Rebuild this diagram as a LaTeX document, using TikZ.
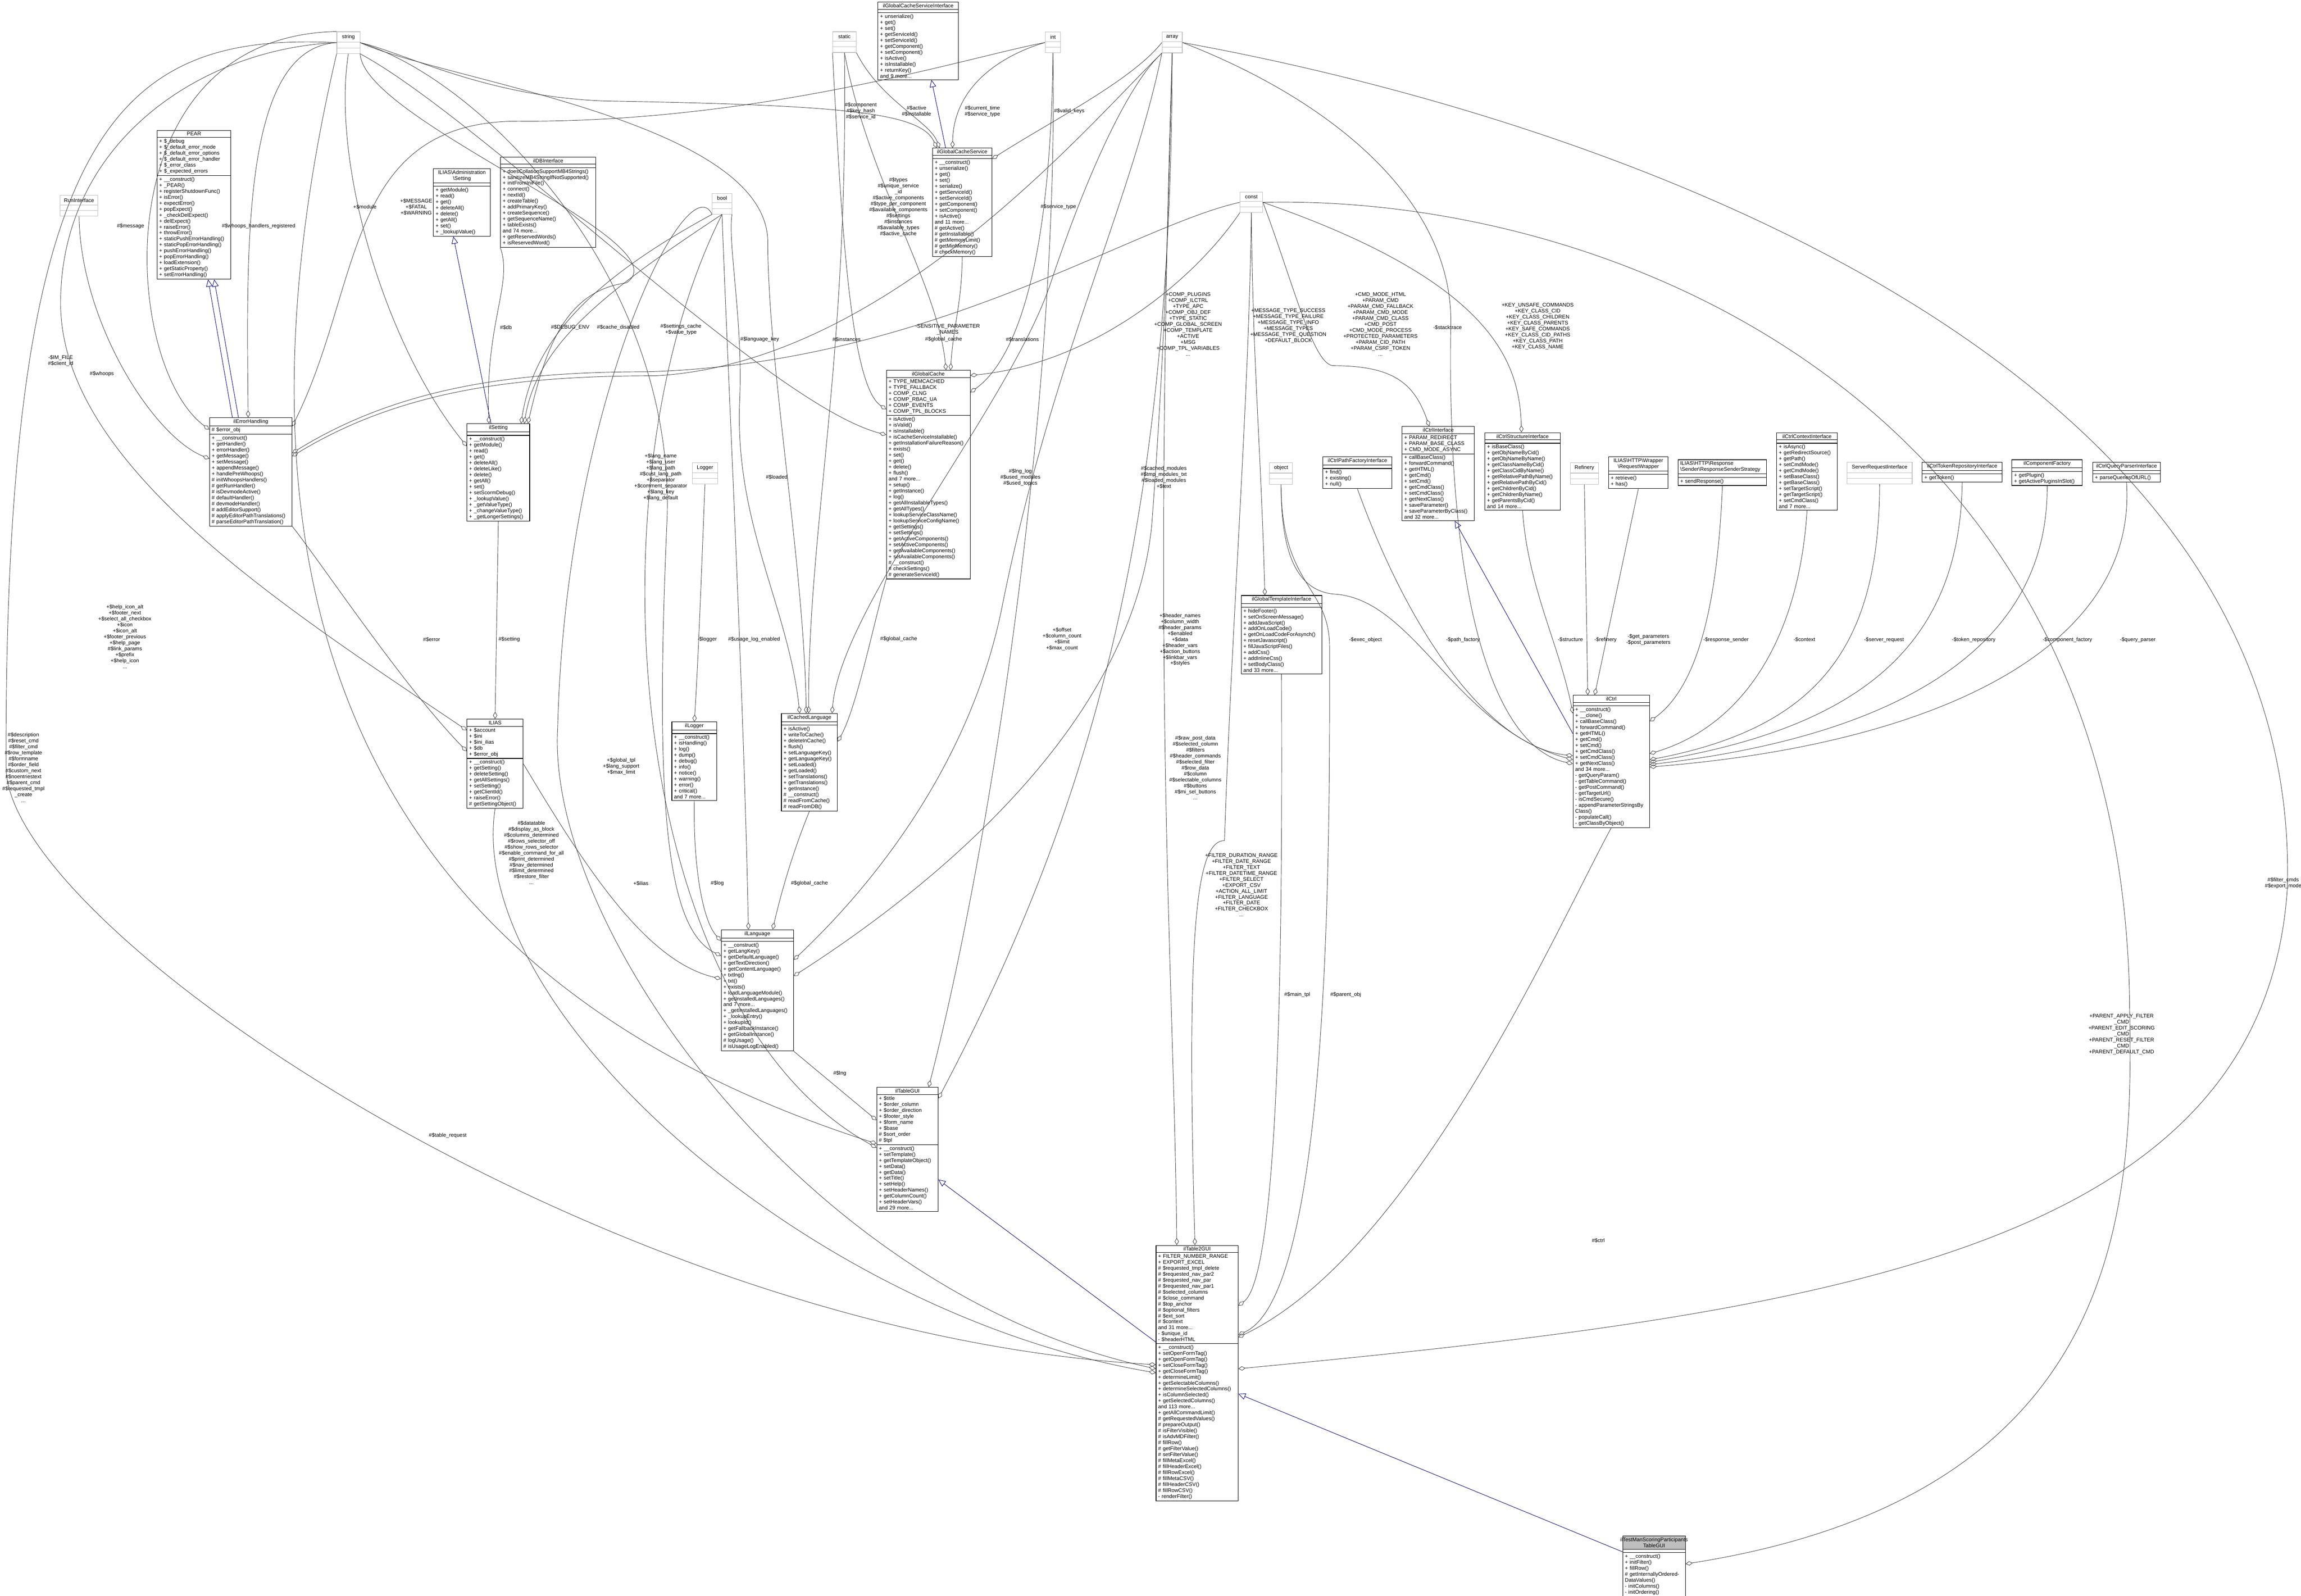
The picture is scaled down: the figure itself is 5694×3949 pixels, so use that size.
\documentclass[tikz,border=0pt]{standalone}
\usepackage{fontspec}
\setmainfont{Liberation Sans}
\usetikzlibrary{shapes.multipart,arrows.meta,calc}
\newcommand{\fs}{\fontsize{3.7}{4.2}\selectfont\lineskiplimit=-5pt\lineskip=0pt}
\newcommand{\ctitle}[1]{\makebox[\hsize]{#1}}
\tikzset{
 cls/.style={rectangle split, rectangle split parts=3, draw=black, line width=0.35pt, anchor=north west,
   inner xsep=1.5pt, inner ysep=1pt, font=\fs, align=left, rectangle split empty part height=3.5pt},
 ext/.style={cls, draw=black!25, inner ysep=1.8pt},
 agg/.style={draw=black!75, line width=0.3pt, arrows={Diamond[open,length=5pt,width=3pt]-}},
 inh/.style={draw=blue!50!black, line width=0.3pt, arrows={-Triangle[open,length=5pt,width=4.5pt]}},
 lab/.style={font=\fs, align=center, inner sep=0pt}
}
\begin{document}
\begin{tikzpicture}[x=0.01cm,y=-0.01cm]
\useasboundingbox[fill=white] (0,0) rectangle (5694,3949);

% ---------- grey (external) boxes
\node[ext, text width=13.2pt] (string) at (833,78) {\ctitle{string}\nodepart{two}\nodepart{three}};
\node[ext, text width=13.5pt] (static) at (2060,78) {\ctitle{static}\nodepart{two}\nodepart{three}};
\node[ext, text width=7.8pt] (int) at (2586,79) {\ctitle{int}\nodepart{two}\nodepart{three}};
\node[ext, text width=11.2pt] (array) at (2875,79) {\ctitle{array}\nodepart{two}\nodepart{three}};
\node[ext, text width=12.9pt] (const) at (3068,475) {\ctitle{const}\nodepart{two}\nodepart{three}};
\node[ext, text width=10.7pt] (bool) at (1762,478) {\ctitle{bool}\nodepart{two}\nodepart{three}};
\node[ext, text width=23.7pt] (runif) at (148,483) {\ctitle{RunInterface}\nodepart{two}\nodepart{three}};
\node[ext, text width=14.6pt] (logger) at (1713,1144) {\ctitle{Logger}\nodepart{two}\nodepart{three}};
\node[ext, text width=13.2pt] (object) at (3141,1144) {\ctitle{object}\nodepart{two}\nodepart{three}};
\node[ext, text width=16.9pt] (refinery) at (3885,1144) {\ctitle{Refinery}\nodepart{two}\nodepart{three}};
\node[ext, text width=42.8pt] (sri) at (4570,1143) {\ctitle{ServerRequestInterface}\nodepart{two}\nodepart{three}};

% ---------- classes
\node[cls, text width=49pt] (pear) at (388,322) {\ctitle{PEAR}\nodepart{two}+ \$\_debug\\+ \$\_default\_error\_mode\\+ \$\_default\_error\_options\\+ \$\_default\_error\_handler\\+ \$\_error\_class\\+ \$\_expected\_errors\nodepart{three}+ \_\_construct()\\+ \_PEAR()\\+ registerShutdownFunc()\\+ isError()\\+ expectError()\\+ popExpect()\\+ \_checkDelExpect()\\+ delExpect()\\+ raiseError()\\+ throwError()\\+ staticPushErrorHandling()\\+ staticPopErrorHandling()\\+ pushErrorHandling()\\+ popErrorHandling()\\+ loadExtension()\\+ getStaticProperty()\\+ setErrorHandling()};

\node[cls, text width=37.1pt] (admset) at (1072,417) {\ctitle{ILIAS\textbackslash Administration}\\\ctitle{\textbackslash Setting}\nodepart{two}\nodepart{three}+ getModule()\\+ read()\\+ get()\\+ deleteAll()\\+ delete()\\+ getAll()\\+ set()\\+ \_lookupValue()};

\node[cls, text width=64.1pt] (db) at (1238,388) {\ctitle{ilDBInterface}\nodepart{two}\nodepart{three}+ doesCollationSupportMB4Strings()\\+ sanitizeMB4StringIfNotSupported()\\+ initFromIniFile()\\+ connect()\\+ nextId()\\+ createTable()\\+ addPrimaryKey()\\+ createSequence()\\+ getSequenceName()\\+ tableExists()\\and 74 more...\\+ getReservedWords()\\+ isReservedWord()};

\node[cls, text width=55pt] (errh) at (518,1033) {\ctitle{ilErrorHandling}\nodepart{two}\# \$error\_obj\nodepart{three}+ \_\_construct()\\+ getHandler()\\+ errorHandler()\\+ getMessage()\\+ setMessage()\\+ appendMessage()\\+ handlePreWhoops()\\\# initWhoopsHandlers()\\\# getRunHandler()\\\# isDevmodeActive()\\\# defaultHandler()\\\# devmodeHandler()\\\# addEditorSupport()\\\# applyEditorPathTranslations()\\\# parseEditorPathTranslation()};

\node[cls, text width=41.1pt] (ilsetting) at (1155,1048) {\ctitle{ilSetting}\nodepart{two}\nodepart{three}+ \_\_construct()\\+ getModule()\\+ read()\\+ get()\\+ deleteAll()\\+ deleteLike()\\+ delete()\\+ getAll()\\+ set()\\+ setScormDebug()\\+ \_lookupValue()\\+ \_getValueType()\\+ \_changeValueType()\\+ \_getLongerSettings()};

\node[cls, text width=36.5pt] (ilias) at (1155,1779) {\ctitle{ILIAS}\nodepart{two}+ \$account\\+ \$ini\\+ \$ini\_ilias\\+ \$db\\+ \$error\_obj\nodepart{three}+ \_\_construct()\\+ getSetting()\\+ deleteSetting()\\+ getAllSettings()\\+ setSetting()\\+ getClientId()\\+ raiseError()\\\# getSettingObject()};

\node[cls, text width=28.6pt] (illogger) at (1662,1786) {\ctitle{ilLogger}\nodepart{two}\nodepart{three}+ \_\_construct()\\+ isHandling()\\+ log()\\+ dump()\\+ debug()\\+ info()\\+ notice()\\+ warning()\\+ error()\\+ critical()\\and 7 more...};

\node[cls, text width=36.5pt] (icl) at (1933,1765) {\ctitle{ilCachedLanguage}\nodepart{two}\nodepart{three}+ isActive()\\+ writeToCache()\\+ deleteInCache()\\+ flush()\\+ setLanguageKey()\\+ getLanguageKey()\\+ setLoaded()\\+ getLoaded()\\+ setTranslations()\\+ getTranslations()\\+ getInstance()\\\# \_\_construct()\\\# readFromCache()\\\# readFromDB()};

\node[cls, text width=47.9pt] (illang) at (1784,2300) {\ctitle{ilLanguage}\nodepart{two}\nodepart{three}+ \_\_construct()\\+ getLangKey()\\+ getDefaultLanguage()\\+ getTextDirection()\\+ getContentLanguage()\\+ txtlng()\\+ txt()\\+ exists()\\+ loadLanguageModule()\\+ getInstalledLanguages()\\and 7 more...\\+ \_getInstalledLanguages()\\+ \_lookupEntry()\\+ lookupId()\\+ getFallbackInstance()\\+ getGlobalInstance()\\\# logUsage()\\\# isUsageLogEnabled()};

\node[cls, text width=40.2pt] (tgui) at (2169,2690) {\ctitle{ilTableGUI}\nodepart{two}+ \$title\\+ \$order\_column\\+ \$order\_direction\\+ \$footer\_style\\+ \$form\_name\\+ \$base\\\# \$sort\_order\\\# \$tpl\nodepart{three}+ \_\_construct()\\+ setTemplate()\\+ getTemplateObject()\\+ setData()\\+ getData()\\+ setTitle()\\+ setHelp()\\+ setHeaderNames()\\+ getColumnCount()\\+ setHeaderVars()\\and 29 more...};

\node[cls, text width=53.6pt] (gcsi) at (2172,5) {\ctitle{ilGlobalCacheServiceInterface}\nodepart{two}\nodepart{three}+ unserialize()\\+ get()\\+ set()\\+ getServiceId()\\+ setServiceId()\\+ getComponent()\\+ setComponent()\\+ isActive()\\+ isInstallable()\\+ returnKey()\\and 9 more...};

\node[cls, text width=38.8pt] (gcs) at (2307,366) {\ctitle{ilGlobalCacheService}\nodepart{two}\nodepart{three}+ \_\_construct()\\+ unserialize()\\+ get()\\+ set()\\+ serialize()\\+ getServiceId()\\+ setServiceId()\\+ getComponent()\\+ setComponent()\\+ isActive()\\and 11 more...\\\# getActive()\\\# getInstallable()\\\# getMemoryLimit()\\\# getMinMemory()\\\# checkMemory()};

\node[cls, text width=55.9pt] (gc) at (2193,916) {\ctitle{ilGlobalCache}\nodepart{two}+ TYPE\_MEMCACHED\\+ TYPE\_FALLBACK\\+ COMP\_CLNG\\+ COMP\_RBAC\_UA\\+ COMP\_EVENTS\\+ COMP\_TPL\_BLOCKS\nodepart{three}+ isActive()\\+ isValid()\\+ isInstallable()\\+ isCacheServiceInstallable()\\+ getInstallationFailureReason()\\+ exists()\\+ set()\\+ get()\\+ delete()\\+ flush()\\and 7 more...\\+ setup()\\+ getInstance()\\+ log()\\+ getAllInstallableTypes()\\+ getAllTypes()\\+ lookupServiceClassName()\\+ lookupServiceConfigName()\\+ getSettings()\\+ setSettings()\\+ getActiveComponents()\\+ setActiveComponents()\\+ getAvailableComponents()\\+ setAvailableComponents()\\\# \_\_construct()\\\# checkSettings()\\\# generateServiceId()};

\node[cls, text width=53.6pt] (gti) at (3071,1473) {\ctitle{ilGlobalTemplateInterface}\nodepart{two}\nodepart{three}+ hideFooter()\\+ setOnScreenMessage()\\+ addJavaScript()\\+ addOnLoadCode()\\+ getOnLoadCodeForAsynch()\\+ resetJavascript()\\+ fillJavaScriptFiles()\\+ addCss()\\+ addInlineCss()\\+ setBodyClass()\\and 33 more...};

\node[cls, text width=45.6pt] (pathf) at (3273,1130) {\ctitle{ilCtrlPathFactoryInterface}\nodepart{two}\nodepart{three}+ find()\\+ existing()\\+ null()};

\node[cls, text width=47.9pt] (ctrlif) at (3469,1055) {\ctitle{ilCtrlInterface}\nodepart{two}+ PARAM\_REDIRECT\\+ PARAM\_BASE\_CLASS\\+ CMD\_MODE\_ASYNC\nodepart{three}+ callBaseClass()\\+ forwardCommand()\\+ getHTML()\\+ getCmd()\\+ setCmd()\\+ getCmdClass()\\+ setCmdClass()\\+ getNextClass()\\+ saveParameter()\\+ saveParameterByClass()\\and 32 more...};

\node[cls, text width=49.9pt] (cstruct) at (3674,1070) {\ctitle{ilCtrlStructureInterface}\nodepart{two}\nodepart{three}+ isBaseClass()\\+ getObjNameByCid()\\+ getObjNameByName()\\+ getClassNameByCid()\\+ getClassCidByName()\\+ getRelativePathByName()\\+ getRelativePathByCid()\\+ getChildrenByCid()\\+ getChildrenByName()\\+ getParentsByCid()\\and 14 more...};

\node[cls, text width=38.8pt] (rw) at (3980,1130) {\ctitle{ILIAS\textbackslash HTTP\textbackslash Wrapper}\\\ctitle{\textbackslash RequestWrapper}\nodepart{two}\nodepart{three}+ retrieve()\\+ has()};

\node[cls, text width=59.3pt] (rss) at (4152,1137) {ILIAS\textbackslash HTTP\textbackslash Response\\\textbackslash Sender\textbackslash ResponseSenderStrategy\nodepart{two}\nodepart{three}+ sendResponse()};

\node[cls, text width=39.7pt] (cci) at (4396,1070) {\ctitle{ilCtrlContextInterface}\nodepart{two}\nodepart{three}+ isAsync()\\+ getRedirectSource()\\+ getPath()\\+ setCmdMode()\\+ getCmdMode()\\+ setBaseClass()\\+ getBaseClass()\\+ setTargetScript()\\+ getTargetScript()\\+ setCmdClass()\\and 7 more...};

\node[cls, text width=53.3pt] (ctri) at (4756,1143) {\ctitle{ilCtrlTokenRepositoryInterface}\nodepart{two}\nodepart{three}+ getToken()};
\node[cls, text width=46.5pt] (cf) at (4978,1137) {\ctitle{ilComponentFactory}\nodepart{two}\nodepart{three}+ getPlugin()\\+ getActivePluginsInSlot()};
\node[cls, text width=44.5pt] (cqpi) at (5178,1143) {\ctitle{ilCtrlQueryParserInterface}\nodepart{two}\nodepart{three}+ parseQueriesOfURL()};

\node[cls, text width=50.8pt] (ilctrl) at (3892,1720) {\ctitle{ilCtrl}\nodepart{two}\nodepart{three}+ \_\_construct()\\+ \_\_clone()\\+ callBaseClass()\\+ forwardCommand()\\+ getHTML()\\+ getCmd()\\+ setCmd()\\+ getCmdClass()\\+ setCmdClass()\\+ getNextClass()\\and 34 more...\\- getQueryParam()\\- getTableCommand()\\- getPostCommand()\\- getTargetUrl()\\- isCmdSecure()\\- appendParameterStringsBy\\Class()\\- populateCall()\\- getClassByObject()};

\node[cls, text width=54.8pt] (t2) at (2860,3081) {\ctitle{ilTable2GUI}\nodepart{two}+ FILTER\_NUMBER\_RANGE\\+ EXPORT\_EXCEL\\\# \$requested\_tmpl\_delete\\\# \$requested\_nav\_par2\\\# \$requested\_nav\_par\\\# \$requested\_nav\_par1\\\# \$selected\_columns\\\# \$close\_command\\\# \$top\_anchor\\\# \$optional\_filters\\\# \$ext\_sort\\\# \$context\\and 31 more...\\- \$unique\_id\\- \$headerHTML\nodepart{three}+ \_\_construct()\\+ setOpenFormTag()\\+ getOpenFormTag()\\+ setCloseFormTag()\\+ getCloseFormTag()\\+ determineLimit()\\+ getSelectableColumns()\\+ determineSelectedColumns()\\+ isColumnSelected()\\+ getSelectedColumns()\\and 113 more...\\+ getAllCommandLimit()\\\# getRequestedValues()\\\# prepareOutput()\\\# isFilterVisible()\\\# isAdvMDFilter()\\\# fillRow()\\\# getFilterValue()\\\# setFilterValue()\\\# fillMetaExcel()\\\# fillHeaderExcel()\\\# fillRowExcel()\\\# fillMetaCSV()\\\# fillHeaderCSV()\\\# fillRowCSV()\\- renderFilter()};

\node[cls, text width=41.1pt, rectangle split part fill={black!25,white,white}] (tm) at (4015,3800) {\ctitle{ilTestManScoringParticipants}\\\ctitle{TableGUI}\nodepart{two}\nodepart{three}+ \_\_construct()\\+ initFilter()\\+ fillRow()\\\# getInternallyOrderedDataValues()\\- initColumns()\\- initOrdering()};

% ---------- inheritance
\draw[inh] ($(errh.north west)+(57,0)$) -- ($(pear.south west)+(127,0)$);
\draw[inh] ($(errh.north west)+(72,0)$) -- ($(pear.south west)+(142,0)$);
\draw[inh] ($(ilsetting.north west)+(60,0)$) -- ($(admset.south west)+(50,0)$);
\draw[inh] ($(gcs.north west)+(33,0)$) -- ($(gcsi.south west)+(133,0)$);
\draw[inh] ($(ilctrl.north west)+(0,95)$) -- ($(ctrlif.south west)+(131,0)$);
\draw[inh] ($(t2.north west)+(0,240)$) -- ($(tgui.north east)+(0,229)$);
\draw[inh] ($(tm.north west)+(0,40)$) -- ($(t2.north east)+(0,368)$);

% ---------- aggregations: ilErrorHandling
\draw[agg] ($(errh.north west)+(96,0)$) .. controls (610,600) and (600,120) .. (string.west);
\draw[agg] ($(errh.north west)+(0,30)$) .. controls (300,900) and (250,90) .. (string.north west);
\draw[agg] ($(errh.north west)+(0,102)$) .. controls (380,1080) and (200,800) .. (runif.south);
\draw[agg] ($(errh.north east)+(0,22)$) .. controls (900,700) and (850,290) .. (1300,300) .. controls (1900,300) and (2400,140) .. (int.west);
\draw[agg] ($(errh.north east)+(0,88)$) .. controls (1000,950) and (1300,920) .. (1600,920) .. controls (2300,900) and (2800,560) .. (const.west);
\draw[agg] ($(errh.north east)+(0,96)$) .. controls (1000,960) and (1300,930) .. (1620,930) .. controls (2200,900) and (2700,300) .. (array.south west);
% ilSetting
\draw[agg] ($(ilsetting.north west)+(0,56)$) .. controls (950,850) and (820,400) .. (string.south);
\draw[agg] ($(ilsetting.north west)+(55,0)$) .. controls (1200,800) and (1270,700) .. (db.south west);
\draw[agg] ($(ilsetting.north east)+(-22,0)$) .. controls (1320,850) and (1450,700) .. (bool.south west);
\draw[agg] ($(ilsetting.north east)+(-14,0)$) .. controls (1330,850) and (1500,720) .. (bool.south);
\draw[agg] ($(ilsetting.north east)+(-5,0)$) .. controls (1350,860) and (1400,720) .. (1550,700) .. controls (1700,600) and (900,300) .. (string.south east);
% ILIAS
\draw[agg] (ilias.north) -- (ilsetting.south);
\draw[agg] ($(ilias.north west)+(0,28)$) .. controls (700,1500) and (150,1150) .. (150,750) .. controls (150,350) and (500,120) .. (string.west);
\draw[agg] ($(ilias.north west)+(0,80)$) .. controls (1000,1700) and (800,1400) .. (errh.south east);
% ilLogger, ilLanguage
\draw[agg] (illogger.north) .. controls (1730,1600) and (1740,1300) .. (logger.south);
\draw[agg] ($(illang.north west)+(0,28)$) .. controls (1740,2280) and (1715,2150) .. (illogger.south);
\draw[agg] ($(illang.north west)+(0,65)$) .. controls (1650,2300) and (1620,2000) .. (1650,1300) .. controls (1680,700) and (1200,200) .. (string.east);
\draw[agg] ($(illang.north west)+(0,122)$) .. controls (1600,2380) and (1450,2150) .. (ilias.east);
\draw[agg] ($(illang.north west)+(68,0)$) .. controls (1840,1700) and (1800,900) .. (bool.south);
\draw[agg] ($(illang.north west)+(128,0)$) .. controls (1935,2200) and (1965,2100) .. (icl.south);
\draw[agg] ($(illang.north east)+(0,75)$) .. controls (2150,2200) and (2400,1900) .. (2480,1500) .. controls (2600,900) and (2800,500) .. (array.south west);
\draw[agg] ($(illang.north east)+(0,115)$) .. controls (2300,2200) and (2800,1800) .. (2850,1300) .. controls (2880,900) and (2890,600) .. (array.south);
% ilCachedLanguage
\draw[agg] ($(icl.north west)+(46,0)$) .. controls (1950,1500) and (1820,1300) .. (1830,1000) .. controls (1840,800) and (1800,600) .. (bool.south east);
\draw[agg] ($(icl.north west)+(62,0)$) .. controls (1990,1400) and (1900,900) .. (1900,600) .. controls (1900,300) and (1100,200) .. (string.east);
\draw[agg] ($(icl.north west)+(68,0)$) .. controls (2000,1300) and (2100,900) .. (static.south);
\draw[agg] ($(icl.north west)+(126,0)$) .. controls (2080,1500) and (2500,1000) .. (2600,700) .. controls (2700,400) and (2800,200) .. (array.south west);
\draw[agg] ($(icl.north east)+(0,70)$) .. controls (2120,1750) and (2160,1550) .. (gc.south west);
% ilGlobalCacheService / ilGlobalCache
\draw[agg] ($(gcs.north west)+(11,0)$) .. controls (2280,280) and (2100,260) .. (1500,250) .. controls (1200,240) and (1000,130) .. (string.east);
\draw[agg] ($(gcs.north west)+(18,0)$) .. controls (2300,300) and (2180,250) .. (static.south east);
\draw[agg] ($(gcs.north west)+(50,0)$) .. controls (2360,200) and (2500,130) .. (int.west);
\draw[agg] ($(gcs.north east)+(0,27)$) .. controls (2600,300) and (2800,200) .. (array.west);
\draw[agg] ($(gc.north west)+(148,0)$) .. controls (2320,700) and (2150,450) .. (static.south);
\draw[agg] ($(gc.north west)+(159,0)$) .. controls (2360,800) and (2380,750) .. (gcs.south);
\draw[agg] ($(gc.north east)+(0,13)$) .. controls (2700,900) and (2950,700) .. (const.south west);
\draw[agg] ($(gc.north east)+(0,55)$) .. controls (2500,900) and (2600,700) .. (int.south);
\draw[agg] ($(gc.north west)+(0,97)$) .. controls (2100,950) and (2080,500) .. (static.south west);
\draw[agg] ($(gc.north west)+(0,160)$) .. controls (1900,1000) and (1200,300) .. (string.south east);
% ilTableGUI
\draw[agg] ($(tgui.north west)+(129,0)$) .. controls (2450,2100) and (2620,1000) .. (int.south);
\draw[agg] ($(tgui.north east)+(0,28)$) .. controls (2700,2000) and (2900,1300) .. (array.south);
\draw[agg] ($(tgui.north west)+(0,82)$) -- (illang.south east);
\draw[agg] ($(tgui.north west)+(0,140)$) .. controls (1300,2550) and (420,1900) .. (string.south west);
\draw[agg] ($(tgui.north west)+(0,150)$) .. controls (1550,2500) and (1450,1200) .. (bool.south);
% ilTable2GUI
\draw[agg] ($(t2.north west)+(52,0)$) .. controls (2905,2400) and (2850,1750) .. (array.south);
\draw[agg] ($(t2.north west)+(97,0)$) .. controls (2935,2300) and (2960,2080) .. (3030,2080) .. controls (3050,1500) and (3090,1000) .. (const.south);
\draw[agg] ($(t2.north east)+(0,150)$) .. controls (3173,3150) and (3173,2200) .. (gti.south);
\draw[agg] ($(t2.north east)+(0,222)$) .. controls (3300,3200) and (3290,2000) .. (3290,1600) .. controls (3290,1450) and (3170,1450) .. (object.south);
\draw[agg] ($(t2.north east)+(0,228)$) .. controls (3500,3100) and (3850,2300) .. (ilctrl.south);
\draw[agg] ($(t2.north east)+(0,306)$) .. controls (4500,3250) and (5600,3100) .. (5660,2200) .. controls (5700,900) and (4000,300) .. (array.east);
\draw[agg] ($(t2.north west)+(0,296)$) .. controls (1500,3300) and (20,2300) .. (15,1900) .. controls (10,300) and (300,80) .. (string.west);
\draw[agg] ($(t2.north west)+(0,306)$) .. controls (2000,3200) and (1350,2300) .. (1380,1800) .. controls (1400,1000) and (1700,400) .. (bool.south west);
\draw[agg] ($(t2.north west)+(0,316)$) .. controls (2000,3250) and (1150,2500) .. (ilias.south);
\draw[agg] ($(tm.north east)+(0,70)$) .. controls (5250,3700) and (5280,3000) .. (5270,2500) .. controls (5260,1000) and (4000,480) .. (const.east);
% ilCtrl
\draw[agg] ($(ilctrl.north west)+(37,0)$) -- (refinery.south);
\draw[agg] ($(ilctrl.north west)+(54,0)$) -- (rw.south);
\draw[agg] ($(ilctrl.north west)+(0,45)$) .. controls (3860,1600) and (3780,1450) .. (cstruct.south);
\draw[agg] ($(ilctrl.north west)+(0,150)$) .. controls (3700,1850) and (3500,1600) .. (pathf.south);
\draw[agg] ($(ilctrl.north west)+(0,160)$) .. controls (3600,1800) and (3500,1480) .. (3300,1470) .. controls (3200,1460) and (3170,1350) .. (object.south);
\draw[agg] ($(ilctrl.north west)+(0,170)$) .. controls (3700,1850) and (3580,1500) .. (3590,810) .. controls (3600,500) and (3300,250) .. (array.east);
\draw[agg] ($(ilctrl.north east)+(0,65)$) .. controls (4200,1700) and (4250,1500) .. (rss.south);
\draw[agg] ($(ilctrl.north east)+(0,145)$) .. controls (4300,1800) and (4450,1600) .. (cci.south);
\draw[agg] ($(ilctrl.north east)+(0,160)$) .. controls (4500,1800) and (4650,1600) .. (sri.south);
\draw[agg] ($(ilctrl.north east)+(0,166)$) .. controls (4600,1800) and (4850,1600) .. (ctri.south);
\draw[agg] ($(ilctrl.north east)+(0,172)$) .. controls (4700,1820) and (5070,1600) .. (cf.south);
\draw[agg] ($(ilctrl.north east)+(0,178)$) .. controls (4800,1840) and (5290,1600) .. (cqpi.south);
\draw[agg] ($(ctrlif.north west)+(68,0)$) .. controls (3500,950) and (3450,905) .. (3300,905) .. controls (3250,905) and (3200,700) .. (const.east);
\draw[agg] ($(cstruct.north west)+(91,0)$) .. controls (3760,900) and (3700,700) .. (const.east);
\draw[agg] ($(gti.north west)+(59,0)$) .. controls (3120,1100) and (3100,900) .. (const.south);

% ---------- labels
\node[lab] at (640,560) {\#\$whoops\_handlers\_registered};
\node[lab] at (323,560) {\#\$message};
\node[lab] at (252,925) {\#\$whoops};
\node[lab] at (150,893) {-\$IM\_FILE\\\#\$client\_id};
\node[lab] at (903,512) {+\$module};
\node[lab] at (1030,512) {+\$MESSAGE\\+\$FATAL\\+\$WARNING};
\node[lab] at (1252,810) {\#\$db};
\node[lab] at (1411,810) {\#\$DEBUG\_ENV};
\node[lab] at (1530,810) {\#\$cache\_disabled};
\node[lab] at (1685,815) {\#\$settings\_cache\\+\$value\_type};
\node[lab] at (1880,840) {\#\$language\_key};
\node[lab] at (2095,840) {\#\$instances};
\node[lab] at (2335,840) {\#\$global\_cache};
\node[lab] at (2530,840) {\#\$translations};
\node[lab] at (2345,815) {-SENSITIVE\_PARAMETER\\\_NAMES};
\node[lab] at (1260,1582) {\#\$setting};
\node[lab] at (1068,1582) {\#\$error};
\node[lab] at (1635,1181) {+\$lang\_name\\+\$lang\_user\\+\$lang\_path\\\#\$cust\_lang\_path\\+\$separator\\+\$comment\_separator\\+\$lang\_key\\+\$lang\_default};
\node[lab] at (1922,1180) {\#\$loaded};
\node[lab] at (1750,1582) {-\$logger};
\node[lab] at (1866,1582) {\#\$usage\_log\_enabled};
\node[lab] at (1537,1897) {+\$global\_tpl\\+\$lang\_support\\+\$max\_limit};
\node[lab] at (1586,2186) {+\$ilias};
\node[lab] at (1775,2186) {\#\$log};
\node[lab] at (2003,2186) {\#\$global\_cache};
\node[lab] at (2078,2656) {\#\$lng};
\node[lab] at (2224,1581) {\#\$global\_cache};
\node[lab] at (2525,1181) {\#\$lng\_log\\\#\$used\_modules\\\#\$used\_topics};
\node[lab] at (2628,1582) {+\$offset\\+\$column\_count\\+\$limit\\+\$max\_count};
\node[lab] at (2223,512) {\#\$types\\\#\$unique\_service\\\_id\\\#\$active\_components\\\#\$type\_per\_component\\\#\$available\_components\\\#\$settings\\\#\$instances\\\#\$available\_types\\\#\$active\_cache};
\node[lab] at (2130,275) {\#\$component\\\#\$key\_hash\\\#\$service\_id};
\node[lab] at (2268,275) {\#\$active\\\#\$installable};
\node[lab] at (2431,275) {\#\$current\_time\\\#\$service\_type};
\node[lab] at (2646,275) {\#\$valid\_keys};
\node[lab] at (2619,512) {\#\$service\_type};
\node[lab] at (2940,802) {+COMP\_PLUGINS\\+COMP\_ILCTRL\\+TYPE\_APC\\+COMP\_OBJ\_DEF\\+TYPE\_STATIC\\+COMP\_GLOBAL\_SCREEN\\+COMP\_TEMPLATE\\+ACTIVE\\+MSG\\+COMP\_TPL\_VARIABLES\\...};
\node[lab] at (3188,806) {+MESSAGE\_TYPE\_SUCCESS\\+MESSAGE\_TYPE\_FAILURE\\+MESSAGE\_TYPE\_INFO\\+MESSAGE\_TYPES\\+MESSAGE\_TYPE\_QUESTION\\+DEFAULT\_BLOCK};
\node[lab] at (3416,802) {+CMD\_MODE\_HTML\\+PARAM\_CMD\\+PARAM\_CMD\_FALLBACK\\+PARAM\_CMD\_MODE\\+PARAM\_CMD\_CLASS\\+CMD\_POST\\+CMD\_MODE\_PROCESS\\+PROTECTED\_PARAMETERS\\+PARAM\_CID\_PATH\\+PARAM\_CSRF\_TOKEN\\...};
\node[lab] at (3582,810) {-\$stacktrace};
\node[lab] at (3805,808) {+KEY\_UNSAFE\_COMMANDS\\+KEY\_CLASS\_CID\\+KEY\_CLASS\_CHILDREN\\+KEY\_CLASS\_PARENTS\\+KEY\_SAFE\_COMMANDS\\+KEY\_CLASS\_CID\_PATHS\\+KEY\_CLASS\_PATH\\+KEY\_CLASS\_NAME};
\node[lab] at (2880,1181) {\#\$cached\_modules\\\#\$tmp\_modules\_txt\\\#\$loaded\_modules\\+\$text};
\node[lab] at (2920,1583) {+\$header\_names\\+\$column\_width\\\#\$header\_params\\+\$enabled\\+\$data\\+\$header\_vars\\+\$action\_buttons\\+\$linkbar\_vars\\+\$styles};
\node[lab] at (3379,1583) {-\$exec\_object};
\node[lab] at (3620,1583) {-\$path\_factory};
\node[lab] at (3886,1583) {-\$structure};
\node[lab] at (3973,1583) {-\$refinery};
\node[lab] at (4079,1583) {-\$get\_parameters\\-\$post\_parameters};
\node[lab] at (4271,1583) {-\$response\_sender};
\node[lab] at (4465,1583) {-\$context};
\node[lab] at (4662,1583) {-\$server\_request};
\node[lab] at (4884,1583) {-\$token\_repository};
\node[lab] at (5116,1583) {-\$component\_factory};
\node[lab] at (5290,1583) {-\$query\_parser};
\node[lab] at (2958,1900) {\#\$raw\_post\_data\\\#\$selected\_column\\\#\$filters\\\#\$header\_commands\\\#\$selected\_filter\\\#\$row\_data\\\#\$column\\\#\$selectable\_columns\\\#\$buttons\\\#\$mi\_sel\_buttons\\...};
\node[lab] at (3072,2190) {+FILTER\_DURATION\_RANGE\\+FILTER\_DATE\_RANGE\\+FILTER\_TEXT\\+FILTER\_DATETIME\_RANGE\\+FILTER\_SELECT\\+EXPORT\_CSV\\+ACTION\_ALL\_LIMIT\\+FILTER\_LANGUAGE\\+FILTER\_DATE\\+FILTER\_CHECKBOX\\...};
\node[lab] at (3210,2462) {\#\$main\_tpl};
\node[lab] at (3330,2462) {\#\$parent\_obj};
\node[lab] at (3955,3070) {\#\$ctrl};
\node[lab] at (5650,2185) {\#\$filter\_cmds\\\#\$export\_mode};
\node[lab] at (5250,2560) {+PARENT\_APPLY\_FILTER\\\_CMD\\+PARENT\_EDIT\_SCORING\\\_CMD\\+PARENT\_RESET\_FILTER\\\_CMD\\+PARENT\_DEFAULT\_CMD};
\node[lab] at (309,1575) {+\$help\_icon\_alt\\+\$footer\_next\\+\$select\_all\_checkbox\\+\$icon\\+\$icon\_alt\\+\$footer\_previous\\+\$help\_page\\\#\$link\_params\\+\$prefix\\+\$help\_icon\\...};
\node[lab] at (58,1899) {\#\$description\\\#\$reset\_cmd\\\#\$filter\_cmd\\\#\$row\_template\\\#\$formname\\\#\$order\_field\\\#\$custom\_next\\\#\$noentriestext\\\#\$parent\_cmd\\\#\$requested\_tmpl\\\_create\\...};
\node[lab] at (1315,2110) {\#\$datatable\\\#\$display\_as\_block\\\#\$columns\_determined\\\#\$rows\_selector\_off\\\#\$show\_rows\_selector\\\#\$enable\_command\_for\_all\\\#\$print\_determined\\\#\$nav\_determined\\\#\$limit\_determined\\\#\$restore\_filter\\...};
\node[lab] at (1108,2810) {\#\$table\_request};
\end{tikzpicture}
\end{document}
